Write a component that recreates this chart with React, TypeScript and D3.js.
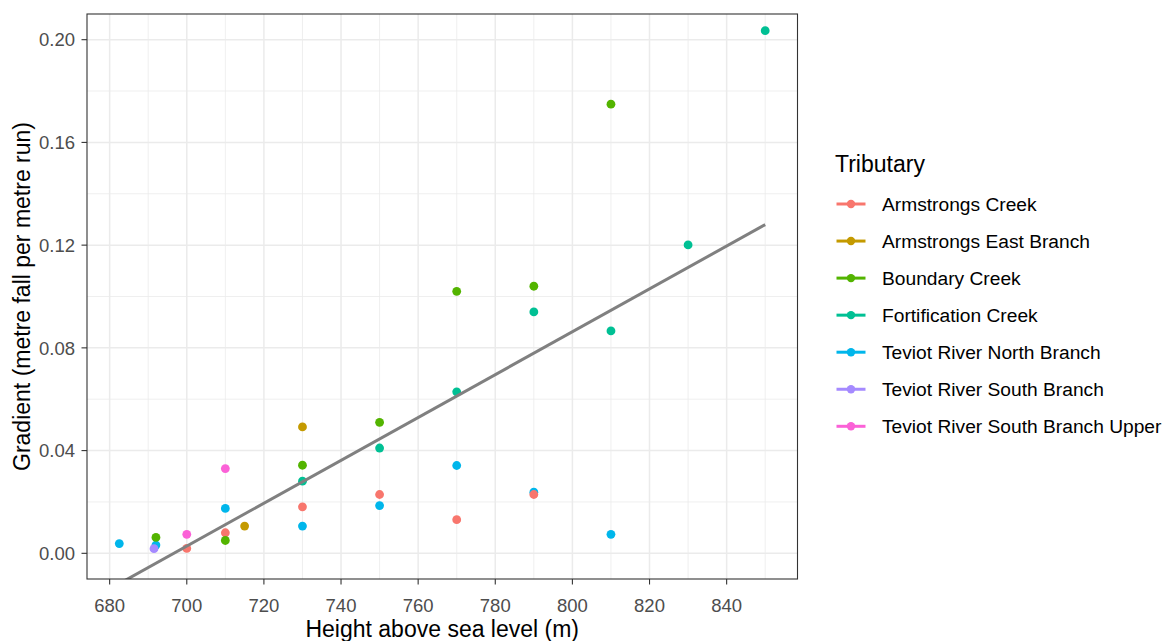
import React from "react";
import * as d3 from "d3";

// Tributary names (legend order) and their hue-palette colours
const tributaries = [
  "Armstrongs Creek",
  "Armstrongs East Branch",
  "Boundary Creek",
  "Fortification Creek",
  "Teviot River North Branch",
  "Teviot River South Branch",
  "Teviot River South Branch Upper",
];
const palette = ["#F8766D", "#C49A00", "#53B400", "#00C094", "#00B6EB", "#A58AFF", "#FB61D7"];

// Observations: height above sea level (m) and gradient (m/m) per tributary
const armstrongsCreek = [
  [700, 0.0019], [710, 0.008], [730, 0.0181], [750, 0.0229], [770, 0.0131], [790, 0.0229],
];
const armstrongsEast = [[715, 0.0106], [730, 0.0492]];
const boundaryCreek = [
  [692, 0.0062], [710, 0.005], [730, 0.0343], [750, 0.051], [770, 0.102], [790, 0.104], [810, 0.1749],
];
const fortificationCreek = [
  [730, 0.0281], [750, 0.041], [770, 0.0629], [790, 0.094], [810, 0.0866], [830, 0.1201], [850, 0.2035],
];
const teviotNorth = [
  [682.5, 0.0038], [692, 0.0032], [710, 0.0175], [730, 0.0106], [750, 0.0186], [770, 0.0342], [790, 0.0238], [810, 0.0074],
];
const teviotSouth = [[691.5, 0.0018]];
const teviotSouthUpper = [[700, 0.0074], [710, 0.033]];

// Linear trend across all observations (endpoints of the fitted line)
const trend = [[682.5, -0.0118], [850, 0.128]];

const xTicks = [680, 700, 720, 740, 760, 780, 800, 820, 840];
const xMinor = [690, 710, 730, 750, 770, 790, 810, 830, 850];
const yTicks = [0, 0.04, 0.08, 0.12, 0.16, 0.2];
const yMinor = [0.02, 0.06, 0.1, 0.14, 0.18];

const seriesData = [
  armstrongsCreek, armstrongsEast, boundaryCreek, fortificationCreek,
  teviotNorth, teviotSouth, teviotSouthUpper,
];
// drawing order: North Branch first so later series sit on top of it
const drawOrder = [4, 0, 1, 2, 3, 5, 6];

const W = 1171;
const H = 641;
const panel = { left: 87, right: 797.5, top: 14, bottom: 579 };
const font = "'Liberation Sans', Arial, Helvetica, sans-serif";

export default function App() {
  const x = d3.scaleLinear().domain([674.125, 858.375]).range([panel.left, panel.right]);
  const y = d3.scaleLinear().domain([-0.01, 0.21]).range([panel.bottom, panel.top]);
  const line = d3.line<number[]>().x((d) => x(d[0])).y((d) => y(d[1]));

  const legendX = 835;
  const legendRow0 = 204;
  const legendStep = 37.05;

  return (
    <svg width={W} height={H} style={{ position: "absolute", left: 0, top: 0 }}>
      <defs>
        <clipPath id="panel-clip">
          <rect x={panel.left} y={panel.top} width={panel.right - panel.left} height={panel.bottom - panel.top} />
        </clipPath>
      </defs>
      <rect x={0} y={0} width={W} height={H} fill="#fff" />

      {/* grid */}
      <g stroke="#EBEBEB">
        {xMinor.map((v) => (
          <line key={"xm" + v} x1={x(v)} x2={x(v)} y1={panel.top} y2={panel.bottom} strokeWidth={0.8} />
        ))}
        {yMinor.map((v) => (
          <line key={"ym" + v} y1={y(v)} y2={y(v)} x1={panel.left} x2={panel.right} strokeWidth={0.8} />
        ))}
        {xTicks.map((v) => (
          <line key={"xM" + v} x1={x(v)} x2={x(v)} y1={panel.top} y2={panel.bottom} strokeWidth={1.5} />
        ))}
        {yTicks.map((v) => (
          <line key={"yM" + v} y1={y(v)} y2={y(v)} x1={panel.left} x2={panel.right} strokeWidth={1.5} />
        ))}
      </g>

      {/* points and trend line */}
      <g clipPath="url(#panel-clip)">
        {drawOrder.map((si) =>
          seriesData[si].map((d, i) => (
            <circle key={si + "-" + i} cx={x(d[0])} cy={y(d[1])} r={4.4} fill={palette[si]} />
          ))
        )}
        <path d={line(trend) || ""} fill="none" stroke="#808080" strokeWidth={3} />
      </g>

      {/* panel border */}
      <rect
        x={panel.left}
        y={panel.top}
        width={panel.right - panel.left}
        height={panel.bottom - panel.top}
        fill="none"
        stroke="#333333"
        strokeWidth={1.1}
      />

      {/* x axis */}
      <g fontFamily={font} fontSize={18.5} fill="#4D4D4D" textAnchor="middle">
        {xTicks.map((v) => (
          <g key={"xt" + v}>
            <line x1={x(v)} x2={x(v)} y1={panel.bottom} y2={panel.bottom + 5.5} stroke="#333333" strokeWidth={1.1} />
            <text x={x(v)} y={612}>{v}</text>
          </g>
        ))}
      </g>
      {/* y axis */}
      <g fontFamily={font} fontSize={18.5} fill="#4D4D4D" textAnchor="end">
        {yTicks.map((v) => (
          <g key={"yt" + v}>
            <line x1={panel.left - 5.5} x2={panel.left} y1={y(v)} y2={y(v)} stroke="#333333" strokeWidth={1.1} />
            <text x={75} y={y(v)} dy="0.36em">{d3.format(".2f")(v)}</text>
          </g>
        ))}
      </g>

      {/* axis titles */}
      <text
        x={(panel.left + panel.right) / 2}
        y={636.5}
        textAnchor="middle"
        fontFamily={font}
        fontSize={23}
        fill="#000"
      >
        Height above sea level (m)
      </text>
      <text
        transform={`translate(29.5, ${(panel.top + panel.bottom) / 2}) rotate(-90)`}
        textAnchor="middle"
        fontFamily={font}
        fontSize={23}
        fill="#000"
      >
        Gradient (metre fall per metre run)
      </text>

      {/* legend */}
      <text x={legendX} y={172} fontFamily={font} fontSize={23} fill="#000">
        Tributary
      </text>
      {tributaries.map((name, i) => {
        const cy = legendRow0 + i * legendStep;
        return (
          <g key={name}>
            <line x1={836.5} x2={865.5} y1={cy} y2={cy} stroke={palette[i]} strokeWidth={3} />
            <circle cx={851} cy={cy} r={4.2} fill={palette[i]} />
            <text x={882} y={cy} dy="0.36em" fontFamily={font} fontSize={19.2} fill="#000">
              {name}
            </text>
          </g>
        );
      })}
    </svg>
  );
}
